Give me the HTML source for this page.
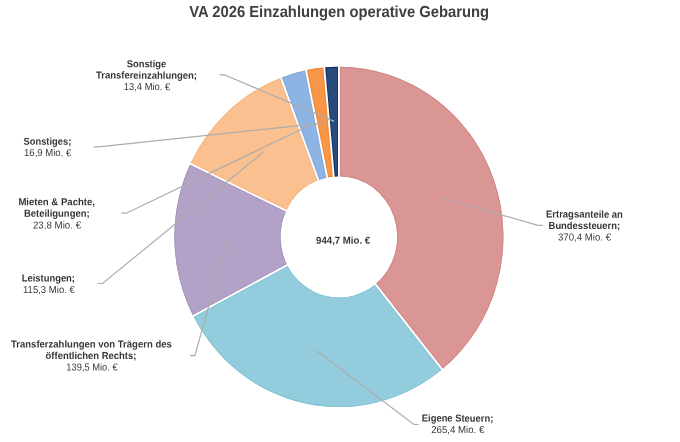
<!DOCTYPE html>
<html><head><meta charset="utf-8"><title>VA 2026 Einzahlungen operative Gebarung</title>
<style>
html,body{margin:0;padding:0;background:#fff;overflow:hidden;}
svg{display:block;text-rendering:geometricPrecision}
text{font-family:"Liberation Sans",Arial,sans-serif;fill:#404040;}
.b{font-weight:bold;fill:#363636;}
.n{font-weight:normal;fill:#3a3a3a;}
</style></head><body>
<svg width="680" height="442" viewBox="0 0 680 442">
<rect width="680" height="442" fill="#fff"/>
<g>
<defs><clipPath id="c1"><path d="M338.90,66.80 A164.5,170.1 0 0 1 442.09,369.37 L375.53,284.17 A58.4,60.7 0 0 0 338.90,176.20 Z"/></clipPath>
<clipPath id="c2"><path d="M442.09,369.37 A164.5,170.1 0 0 1 193.27,316.01 L287.20,265.13 A58.4,60.7 0 0 0 375.53,284.17 Z"/></clipPath>
<clipPath id="c3"><path d="M193.27,316.01 A164.5,170.1 0 0 1 190.36,163.81 L286.17,210.82 A58.4,60.7 0 0 0 287.20,265.13 Z"/></clipPath>
<clipPath id="c4"><path d="M190.36,163.81 A164.5,170.1 0 0 1 280.98,77.69 L318.34,180.09 A58.4,60.7 0 0 0 286.17,210.82 Z"/></clipPath>
<clipPath id="c5"><path d="M280.98,77.69 A164.5,170.1 0 0 1 305.97,70.24 L327.21,177.43 A58.4,60.7 0 0 0 318.34,180.09 Z"/></clipPath>
<clipPath id="c6"><path d="M305.97,70.24 A164.5,170.1 0 0 1 324.26,67.48 L333.70,176.44 A58.4,60.7 0 0 0 327.21,177.43 Z"/></clipPath>
<clipPath id="c7"><path d="M324.26,67.48 A164.5,170.1 0 0 1 338.90,66.80 L338.90,176.20 A58.4,60.7 0 0 0 333.70,176.44 Z"/></clipPath></defs>
<path d="M338.90,66.80 A164.5,170.1 0 0 1 442.09,369.37 L375.53,284.17 A58.4,60.7 0 0 0 338.90,176.20 Z" fill="#D99694"/>
<path d="M442.09,369.37 A164.5,170.1 0 0 1 193.27,316.01 L287.20,265.13 A58.4,60.7 0 0 0 375.53,284.17 Z" fill="#93CDDD"/>
<path d="M193.27,316.01 A164.5,170.1 0 0 1 190.36,163.81 L286.17,210.82 A58.4,60.7 0 0 0 287.20,265.13 Z" fill="#B3A2C7"/>
<path d="M190.36,163.81 A164.5,170.1 0 0 1 280.98,77.69 L318.34,180.09 A58.4,60.7 0 0 0 286.17,210.82 Z" fill="#FAC090"/>
<path d="M280.98,77.69 A164.5,170.1 0 0 1 305.97,70.24 L327.21,177.43 A58.4,60.7 0 0 0 318.34,180.09 Z" fill="#8EB4E3"/>
<path d="M305.97,70.24 A164.5,170.1 0 0 1 324.26,67.48 L333.70,176.44 A58.4,60.7 0 0 0 327.21,177.43 Z" fill="#F79646"/>
<path d="M324.26,67.48 A164.5,170.1 0 0 1 338.90,66.80 L338.90,176.20 A58.4,60.7 0 0 0 333.70,176.44 Z" fill="#284B7B"/>
<g clip-path="url(#c1)" stroke="#D08583" fill="none"><path d="M338.90,66.80 A164.5,170.1 0 0 1 442.09,369.37" stroke-width="1.8"/><path d="M375.53,284.17 A58.4,60.7 0 0 0 338.90,176.20" stroke-width="1.8"/><path d="M338.90,66.80 L338.90,176.20 M442.09,369.37 L375.53,284.17" stroke-width="3.7"/></g>
<g clip-path="url(#c2)" stroke="#82C3D5" fill="none"><path d="M442.09,369.37 A164.5,170.1 0 0 1 193.27,316.01" stroke-width="1.8"/><path d="M287.20,265.13 A58.4,60.7 0 0 0 375.53,284.17" stroke-width="1.8"/><path d="M442.09,369.37 L375.53,284.17 M193.27,316.01 L287.20,265.13" stroke-width="3.7"/></g>
<g clip-path="url(#c3)" stroke="#A693BC" fill="none"><path d="M193.27,316.01 A164.5,170.1 0 0 1 190.36,163.81" stroke-width="1.8"/><path d="M286.17,210.82 A58.4,60.7 0 0 0 287.20,265.13" stroke-width="1.8"/><path d="M193.27,316.01 L287.20,265.13 M190.36,163.81 L286.17,210.82" stroke-width="3.7"/></g>
<g clip-path="url(#c4)" stroke="#F5B47F" fill="none"><path d="M190.36,163.81 A164.5,170.1 0 0 1 280.98,77.69" stroke-width="1.8"/><path d="M318.34,180.09 A58.4,60.7 0 0 0 286.17,210.82" stroke-width="1.8"/><path d="M190.36,163.81 L286.17,210.82 M280.98,77.69 L318.34,180.09" stroke-width="3.7"/></g>
<g clip-path="url(#c5)" stroke="#7CA7DC" fill="none"><path d="M280.98,77.69 A164.5,170.1 0 0 1 305.97,70.24" stroke-width="1.8"/><path d="M327.21,177.43 A58.4,60.7 0 0 0 318.34,180.09" stroke-width="1.8"/><path d="M280.98,77.69 L318.34,180.09 M305.97,70.24 L327.21,177.43" stroke-width="3.7"/></g>
<g clip-path="url(#c6)" stroke="#F2852C" fill="none"><path d="M305.97,70.24 A164.5,170.1 0 0 1 324.26,67.48" stroke-width="1.8"/><path d="M333.70,176.44 A58.4,60.7 0 0 0 327.21,177.43" stroke-width="1.8"/><path d="M305.97,70.24 L327.21,177.43 M324.26,67.48 L333.70,176.44" stroke-width="3.7"/></g>
<g clip-path="url(#c7)" stroke="#0A3167" fill="none"><path d="M324.26,67.48 A164.5,170.1 0 0 1 338.90,66.80" stroke-width="1.8"/><path d="M338.90,176.20 A58.4,60.7 0 0 0 333.70,176.44" stroke-width="1.8"/><path d="M324.26,67.48 L333.70,176.44 M338.90,66.80 L338.90,176.20" stroke-width="3.7"/></g>
<line x1="338.90" y1="178.20" x2="338.90" y2="64.80" stroke="#fff" stroke-width="1.9"/>
<line x1="374.28" y1="282.61" x2="443.34" y2="370.93" stroke="#fff" stroke-width="1.9"/>
<line x1="288.97" y1="264.20" x2="191.50" y2="316.94" stroke="#fff" stroke-width="1.9"/>
<line x1="287.97" y1="211.68" x2="188.55" y2="162.96" stroke="#fff" stroke-width="1.9"/>
<line x1="319.04" y1="181.96" x2="280.27" y2="75.82" stroke="#fff" stroke-width="1.9"/>
<line x1="327.61" y1="179.39" x2="305.57" y2="68.28" stroke="#fff" stroke-width="1.9"/>
<line x1="333.88" y1="178.43" x2="324.08" y2="65.48" stroke="#fff" stroke-width="1.9"/>
</g>
<g>
<polyline points="219.4,74.8 224.3,74.8 334.1,121.4" fill="none" stroke="#ACACAC" stroke-width="1.2"/>
<polyline points="93.7,146.8 98.7,146.8 322.8,123.1" fill="none" stroke="#ACACAC" stroke-width="1.2"/>
<polyline points="121.3,213.2 126.3,213.2 307.7,126.2" fill="none" stroke="#ACACAC" stroke-width="1.2"/>
<polyline points="97.6,283.5 102.5,283.5 263.5,151.8" fill="none" stroke="#ACACAC" stroke-width="1.2"/>
<polyline points="190.2,355.6 194.9,355.6 227.2,239.6" fill="none" stroke="#ACACAC" stroke-width="1.2"/>
<polyline points="444.2,198.5 537.9,225.3 542.8,225.3" fill="none" stroke="#ACACAC" stroke-width="1.2"/>
<polyline points="316.8,350.7 413.9,424.5 418.6,424.5" fill="none" stroke="#ACACAC" stroke-width="1.2"/>
</g>
<g font-size="10.2">
<text transform="translate(126.70 67.2) matrix(1 0.0007 0 1 0 0)" textLength="39.60" lengthAdjust="spacingAndGlyphs" class="b">Sonstige</text>
<text transform="translate(96.00 78.6) matrix(1 0.0007 0 1 0 0)" textLength="101.00" lengthAdjust="spacingAndGlyphs" class="b">Transfereinzahlungen;</text>
<text transform="translate(123.70 90.1) matrix(1 0.0007 0 1 0 0)" textLength="46.60" lengthAdjust="spacingAndGlyphs" class="n">13,4 Mio. €</text>
<text transform="translate(23.50 144.7) matrix(1 0.0007 0 1 0 0)" textLength="47.80" lengthAdjust="spacingAndGlyphs" class="b">Sonstiges;</text>
<text transform="translate(24.00 156.1) matrix(1 0.0007 0 1 0 0)" textLength="47.30" lengthAdjust="spacingAndGlyphs" class="n">16,9 Mio. €</text>
<text transform="translate(18.40 205.3) matrix(1 0.0007 0 1 0 0)" textLength="76.60" lengthAdjust="spacingAndGlyphs" class="b">Mieten &amp; Pachte,</text>
<text transform="translate(23.90 216.7) matrix(1 0.0007 0 1 0 0)" textLength="65.70" lengthAdjust="spacingAndGlyphs" class="b">Beteiligungen;</text>
<text transform="translate(32.90 228.4) matrix(1 0.0007 0 1 0 0)" textLength="48.20" lengthAdjust="spacingAndGlyphs" class="n">23,8 Mio. €</text>
<text transform="translate(21.70 281.4) matrix(1 0.0007 0 1 0 0)" textLength="53.30" lengthAdjust="spacingAndGlyphs" class="b">Leistungen;</text>
<text transform="translate(23.00 292.9) matrix(1 0.0007 0 1 0 0)" textLength="51.80" lengthAdjust="spacingAndGlyphs" class="n">115,3 Mio. €</text>
<text transform="translate(11.00 347.4) matrix(1 0.0007 0 1 0 0)" textLength="160.80" lengthAdjust="spacingAndGlyphs" class="b">Transferzahlungen von Trägern des</text>
<text transform="translate(45.60 358.9) matrix(1 0.0007 0 1 0 0)" textLength="90.80" lengthAdjust="spacingAndGlyphs" class="b">öffentlichen Rechts;</text>
<text transform="translate(66.30 370.5) matrix(1 0.0007 0 1 0 0)" textLength="51.40" lengthAdjust="spacingAndGlyphs" class="n">139,5 Mio. €</text>
<text transform="translate(546.00 217.6) matrix(1 0.0007 0 1 0 0)" textLength="76.90" lengthAdjust="spacingAndGlyphs" class="b">Ertragsanteile an</text>
<text transform="translate(548.60 229) matrix(1 0.0007 0 1 0 0)" textLength="71.50" lengthAdjust="spacingAndGlyphs" class="b">Bundessteuern;</text>
<text transform="translate(558.00 240.5) matrix(1 0.0007 0 1 0 0)" textLength="53.00" lengthAdjust="spacingAndGlyphs" class="n">370,4 Mio. €</text>
<text transform="translate(421.80 421.6) matrix(1 0.0007 0 1 0 0)" textLength="71.50" lengthAdjust="spacingAndGlyphs" class="b">Eigene Steuern;</text>
<text transform="translate(431.20 432.9) matrix(1 0.0007 0 1 0 0)" textLength="53.10" lengthAdjust="spacingAndGlyphs" class="n">265,4 Mio. €</text>
<text transform="translate(316.10 243.75) matrix(1 0.0007 0 1 0 0)" textLength="54.00" lengthAdjust="spacingAndGlyphs" class="b">944,7 Mio. €</text>
</g>
<text transform="translate(189.3 16.7) matrix(1 0.0004 0 1 0 0)" textLength="299.7" lengthAdjust="spacingAndGlyphs" font-size="16" font-weight="bold">VA 2026 Einzahlungen operative Gebarung</text>
</svg>
</body></html>
